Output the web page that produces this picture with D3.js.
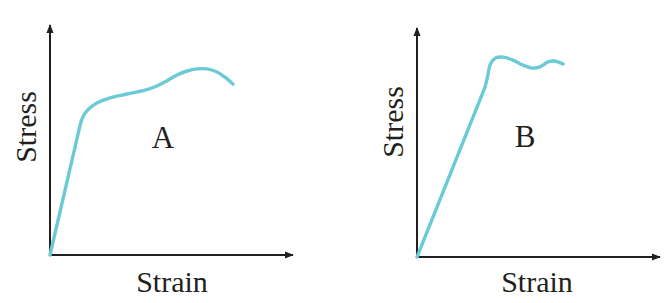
<!DOCTYPE html>
<html>
<head>
<meta charset="utf-8">
<script src="https://cdn.jsdelivr.net/npm/d3@7"></script>
<style>
  body { margin: 0; background: #fff; }
  text { font-family: "Liberation Serif", "DejaVu Serif", serif; fill: #231f20; }
</style>
</head>
<body>
<div id="chart"></div>
<script>
// curve A: strain (% of axis), stress (% of axis); first segment is the straight elastic part
var strainA = [0, 12.3, 13.3, 14.8, 16.8, 19.3, 24.7, 31.7, 39.1, 44.0, 48.1, 52.3, 56.4, 60.5, 64.6, 68.7, 72.4, 75.3];
var stressA = [0, 56.0, 59.5, 62.2, 64.3, 66.1, 68.3, 70.0, 71.7, 73.5, 75.7, 78.3, 80.0, 80.9, 80.9, 79.6, 77.0, 74.3];

// curve B
var strainB = [0, 28.0, 29.0, 30.3, 32.3, 35.4, 39.5, 43.6, 47.3, 50.6, 53.9, 56.4, 60.1];
var stressB = [0, 74.2, 78.6, 84.5, 86.9, 87.3, 86.0, 83.8, 82.5, 83.0, 85.2, 85.6, 84.3];

var panels = [
  {label: "A", strain: strainA, stress: stressA, x0: 50, x1: 293, y0: 255, y1: 25,
   labelX: 163, labelY: 148, yTitleX: 36, yTitleY: 127, xTitleX: 172, xTitleY: 292},
  {label: "B", strain: strainB, stress: stressB, x0: 417, x1: 660, y0: 257, y1: 28,
   labelX: 525, labelY: 147, yTitleX: 403, yTitleY: 122, xTitleX: 537, xTitleY: 292}
];

var svg = d3.select("#chart").append("svg")
    .attr("width", 669)
    .attr("height", 303);

svg.append("defs").append("marker")
    .attr("id", "arrow")
    .attr("viewBox", "0 0 10 10")
    .attr("refX", 9).attr("refY", 5)
    .attr("markerWidth", 9).attr("markerHeight", 9)
    .attr("markerUnits", "userSpaceOnUse")
    .attr("orient", "auto")
  .append("path")
    .attr("d", "M0,1 L10,5 L0,9 Z")
    .attr("fill", "#231f20");

panels.forEach(function(p){
  var x = d3.scaleLinear().domain([0, 100]).range([p.x0, p.x1]);
  var y = d3.scaleLinear().domain([0, 100]).range([p.y0, p.y1]);

  var g = svg.append("g");

  // axes with arrowheads
  g.append("line")
      .attr("x1", x(0)).attr("y1", y(0))
      .attr("x2", x(100)).attr("y2", y(0))
      .attr("stroke", "#231f20").attr("stroke-width", 2)
      .attr("marker-end", "url(#arrow)");
  g.append("line")
      .attr("x1", x(0)).attr("y1", y(0))
      .attr("x2", x(0)).attr("y2", y(100))
      .attr("stroke", "#231f20").attr("stroke-width", 2)
      .attr("marker-end", "url(#arrow)");

  var pts = p.strain.map(function(d, i){ return [d, p.stress[i]]; });
  var straight = d3.line()
      .x(function(d){ return x(d[0]); })
      .y(function(d){ return y(d[1]); });
  var smooth = d3.line()
      .x(function(d){ return x(d[0]); })
      .y(function(d){ return y(d[1]); })
      .curve(d3.curveCatmullRom.alpha(0.5));

  // straight elastic part, then the smooth plastic part (joined in one path)
  var d = straight(pts.slice(0, 2)) + smooth(pts.slice(1)).replace(/^M[^CLQ]*/, "");

  g.append("path")
      .attr("d", d)
      .attr("fill", "none")
      .attr("stroke", "#6ccad6")
      .attr("stroke-width", 3.4)
      .attr("stroke-linecap", "round")
      .attr("stroke-linejoin", "round");

  g.append("text")
      .attr("x", p.labelX).attr("y", p.labelY)
      .attr("text-anchor", "middle")
      .attr("font-size", 31)
      .text(p.label);

  g.append("text")
      .attr("x", p.xTitleX).attr("y", p.xTitleY)
      .attr("text-anchor", "middle")
      .attr("font-size", 30)
      .text("Strain");

  g.append("text")
      .attr("transform", "translate(" + p.yTitleX + "," + p.yTitleY + ") rotate(-90)")
      .attr("text-anchor", "middle")
      .attr("font-size", 30)
      .text("Stress");
});
</script>
</body>
</html>
